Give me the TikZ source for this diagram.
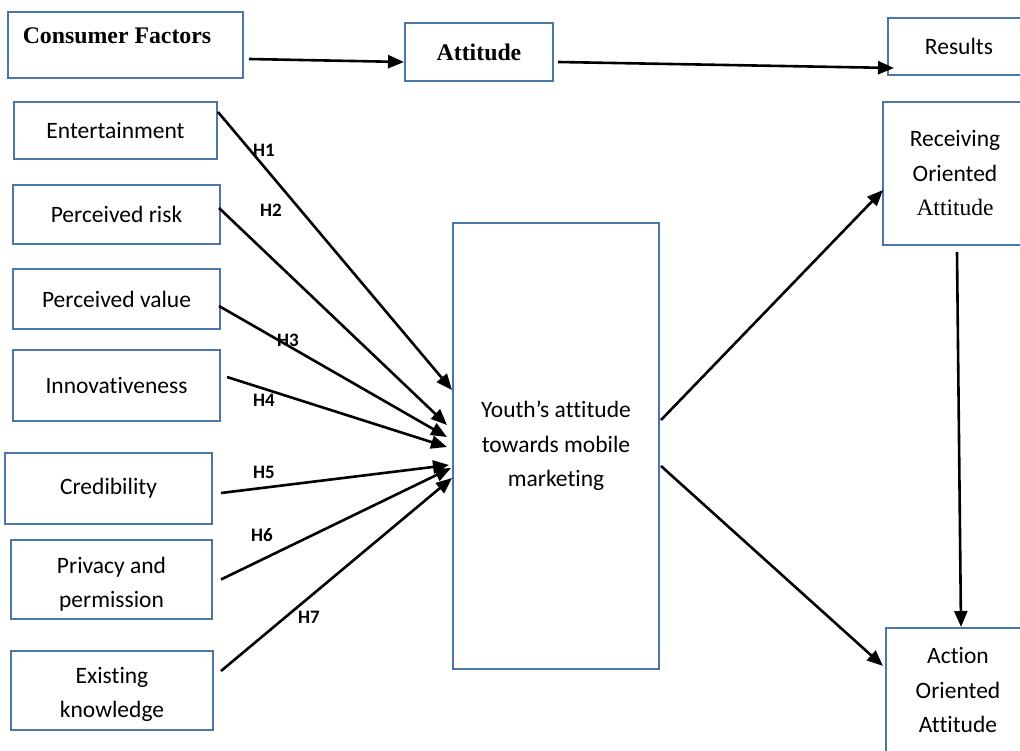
\documentclass[tikz,border=0pt]{standalone}
\usepackage{fontspec}
\setmainfont{Carlito}[Ligatures=CommonOff]
\newfontfamily\serifbold{Liberation Serif}
\usetikzlibrary{arrows.meta,calc}
\definecolor{boxblue}{HTML}{4A76A8}
\tikzset{
  box/.style={draw=boxblue, line width=2pt, rectangle, inner sep=0pt, align=center,
    font=\fontsize{23.5}{34.5}\selectfont},
  boxtext/.style={inner sep=0pt, align=center, font=\fontsize{23.5}{34.5}\selectfont},
  arr/.style={line width=2.6pt, -{Triangle[length=16pt,width=13pt]}},
  hlab/.style={font=\fontsize{19}{22}\selectfont\bfseries, inner sep=0pt},
}
\begin{document}
\begin{tikzpicture}[x=1pt,y=-1pt]
\path[use as bounding box, clip] (0,0) rectangle (1020,751);
\fill[white] (0,0) rectangle (1020,751);
% top row
\node[box, minimum width=235, minimum height=66] (cf) at (125.5,45) {};
\node[font=\serifbold\fontsize{23.8}{26}\selectfont\bfseries, inner sep=0pt] (cftext) at (117,36) {Consumer Factors};
\node[box, minimum width=148, minimum height=58, font=\serifbold\fontsize{23.8}{26}\selectfont\bfseries] (att) at (479,52) {Attitude};
\node[box, minimum width=142, minimum height=57] (res) at (959,46.5) {Results};
% left boxes
\node[box, minimum width=203, minimum height=57] (ent) at (115.5,130.5) {Entertainment};
\node[box, minimum width=207, minimum height=59] (pr) at (116.5,214.5) {Perceived risk};
\node[box, minimum width=207, minimum height=60] (pv) at (116.5,299) {Perceived value};
\node[box, minimum width=207, minimum height=71] (inn) at (116.5,385.5) {Innovativeness};
\node[box, minimum width=207, minimum height=71] (cred) at (108.5,488.5) {Credibility};
\node[box, minimum width=201, minimum height=79] (priv) at (111.5,579.5) {};
\node[boxtext] (privtext) at (111.5,584) {Privacy and\\permission};
\node[box, minimum width=202, minimum height=79] (ek) at (112,690.5) {};
\node[boxtext] (ektext) at (112,694.5) {Existing\\knowledge};
% central
\node[box, minimum width=206, minimum height=446] (yt) at (556,446) {Youth’s attitude\\towards mobile\\marketing};
% right
\node[box, minimum width=144, minimum height=143] (rec) at (955,173.5) {Receiving\\Oriented\\{\serifbold\fontsize{23.5}{34.5}\selectfont Attitude}};
\node[box, minimum width=144, minimum height=124] (act) at (958,690) {Action\\Oriented\\Attitude};
% top arrows
\draw[arr] ($(cf.east)+(5,14)$) -- ($(att.west)+(0,10)$);
\draw[arr] ($(att.east)+(4,10)$) -- ($(res.west)+(7,21.5)$);
% hypotheses
\draw[arr] ($(ent.east)+(0,-18.5)$) -- ($(yt.west)+(0,-56)$);
\draw[arr] ($(pr.east)+(-2,-6.5)$) -- ($(yt.west)+(-5,-21)$);
\draw[arr] ($(pv.east)+(-2,7)$) -- ($(yt.west)+(-5,-9)$);
\draw[arr] ($(inn.east)+(6,-8.5)$) -- ($(yt.west)+(-5,1)$);
\draw[arr] ($(cred.east)+(8,4.5)$) -- ($(yt.west)+(-3,19)$);
\draw[arr] ($(priv.east)+(8,0)$) -- ($(yt.west)+(-1,22)$);
\draw[arr] ($(ek.east)+(7,-19.5)$) -- ($(yt.west)+(0,32)$);
\node[hlab] (h1) at (264,150) {H1};
\node[hlab] (h2) at (271,210) {H2};
\node[hlab] (h3) at (288,340) {H3};
\node[hlab] (h4) at (264,400) {H4};
\node[hlab] (h5) at (264,472) {H5};
\node[hlab] (h6) at (262,535) {H6};
\node[hlab] (h7) at (309,617) {H7};
% outcomes
\draw[arr] ($(yt.east)+(1,-26)$) -- ($(rec.west)+(1,16.5)$);
\draw[arr] ($(yt.east)+(1,20)$) -- ($(act.west)+(-2,-24)$);
\draw[arr] ($(rec.south)+(2,6)$) -- ($(act.north)+(3,0)$);
\end{tikzpicture}
\end{document}
